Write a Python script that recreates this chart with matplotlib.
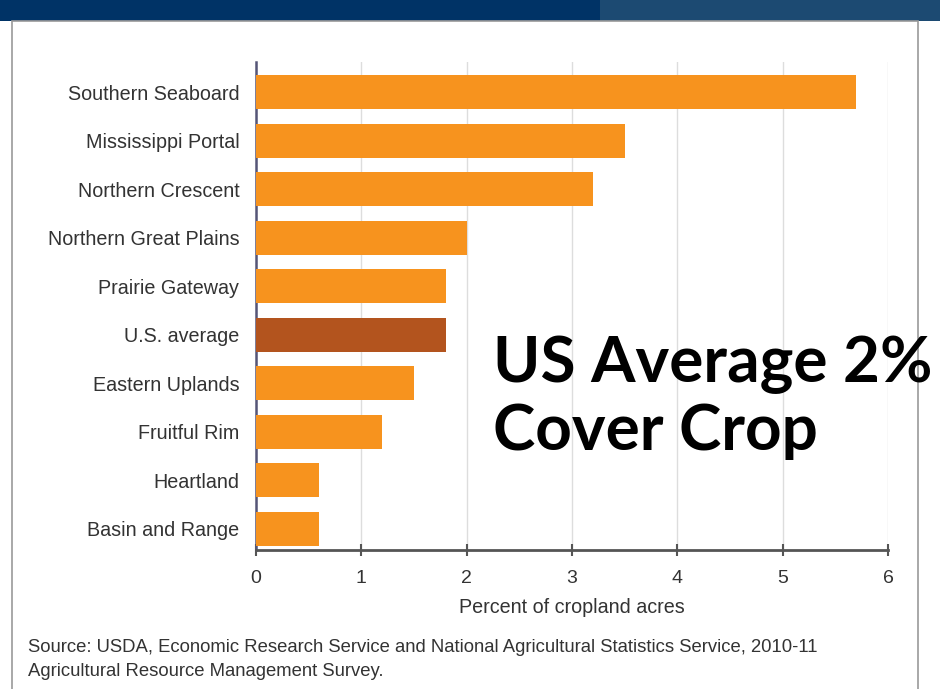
#!/usr/bin/env python3
# Cover crop adoption by ERS farm resource region
import matplotlib.pyplot as plt
from matplotlib.patches import Rectangle

regions = ["Southern Seaboard", "Mississippi Portal", "Northern Crescent",
           "Northern Great Plains", "Prairie Gateway", "U.S. average",
           "Eastern Uplands", "Fruitful Rim", "Heartland", "Basin and Range"]
percent = [5.7, 3.5, 3.2, 2.0, 1.8, 1.8, 1.5, 1.2, 0.6, 0.6]
x_ticks = [0, 1, 2, 3, 4, 5, 6]

orange = "#F7931E"
dark = "#B3541E"
colors = [dark if r == "U.S. average" else orange for r in regions]

plt.rcParams["font.family"] = ["Liberation Sans", "DejaVu Sans"]

fig = plt.figure(figsize=(9.4, 6.89), dpi=100)
W, H = 940, 689

# top banner and frame
fig.patches.append(Rectangle((0, 1 - 21 / H), 1, 21 / H, transform=fig.transFigure,
                             facecolor="#003366", edgecolor="none", zorder=-3))
fig.patches.append(Rectangle((600 / W, 1 - 21 / H), 340 / W, 21 / H, transform=fig.transFigure,
                             facecolor="#1C4A72", edgecolor="none", zorder=-3))
fig.patches.append(Rectangle((12 / W, -0.01), 906 / W, 1 - 21 / H + 0.01, transform=fig.transFigure,
                             facecolor="white", edgecolor="#9a9a9a", linewidth=1.2, zorder=-2))

ax = fig.add_axes([256 / W, 1 - 550 / H, 632 / W, 488 / H])
ax.set_zorder(2)
ax.patch.set_alpha(0)
ax.barh(range(len(regions)), percent, height=0.7, color=colors, zorder=3)
ax.set_ylim(9.44, -0.62)
ax.set_xlim(0, 6)
ax.set_yticks(range(len(regions)))
ax.set_yticklabels(regions, fontsize=14.2, color="#333333")
ax.set_xticks(x_ticks)
ax.set_xticklabels([str(t) for t in x_ticks], fontsize=14, color="#333333")
ax.tick_params(axis="y", length=0, pad=12)
ax.tick_params(axis="x", direction="inout", length=9, width=1.5, color="#555555", pad=10)
ax.xaxis.grid(True, color="#dddddd", linewidth=1, zorder=0)
ax.set_axisbelow(True)
for s in ["top", "right"]:
    ax.spines[s].set_visible(False)
ax.spines["left"].set_color("#555577")
ax.spines["left"].set_linewidth(1.8)
ax.spines["bottom"].set_color("#555555")
ax.spines["bottom"].set_linewidth(2)
ax.set_xlabel("Percent of cropland acres", fontsize=14.2, color="#333333", labelpad=8)

fig.text(493 / W, 1 - 398 / H, "US Average 2%\nCover Crop", fontsize=46, fontweight="bold",
         family=["Lato", "DejaVu Sans"], color="black", linespacing=1.2, va="center", ha="left",
         zorder=5)

fig.text(28 / W, 1 - 648 / H,
         "Source: USDA, Economic Research Service and National Agricultural Statistics Service, 2010-11",
         fontsize=13.3, color="#333333", va="center")
fig.text(28 / W, 1 - 671 / H, "Agricultural Resource Management Survey.",
         fontsize=13.3, color="#333333", va="center")

fig.savefig("out.png", dpi=100)
